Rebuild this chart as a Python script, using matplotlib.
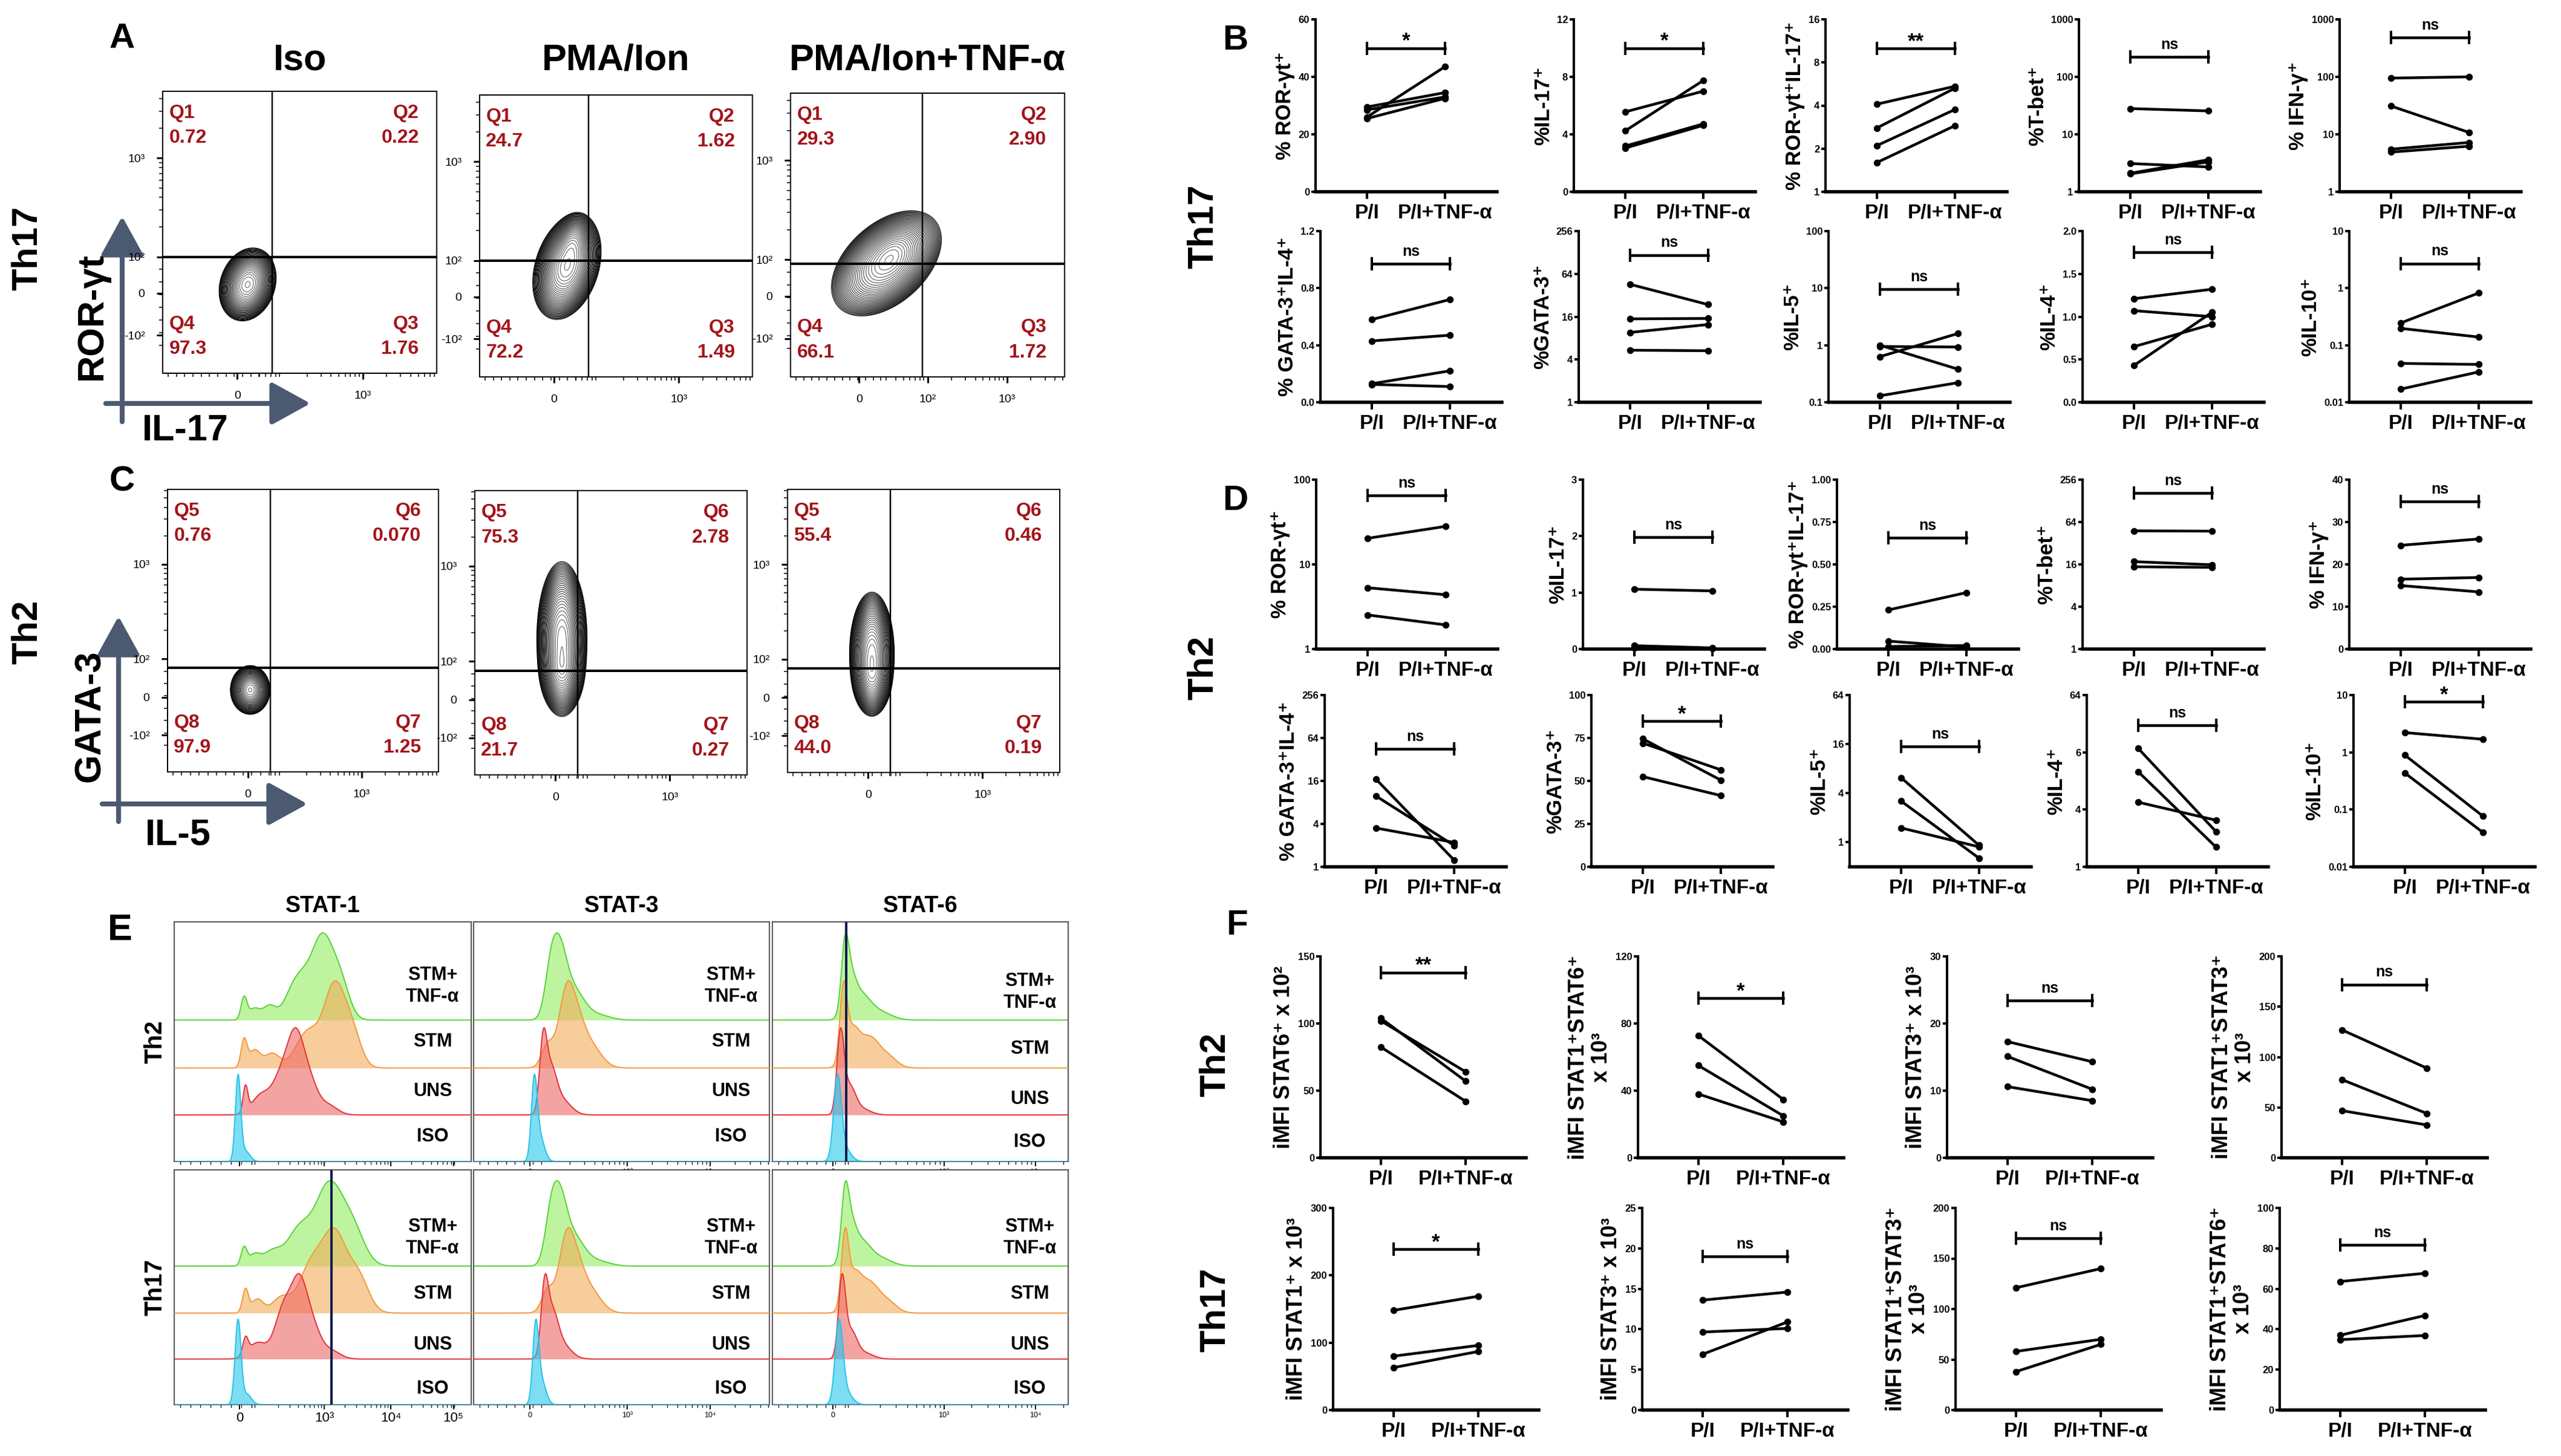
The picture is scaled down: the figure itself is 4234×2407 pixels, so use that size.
import numpy as np
import matplotlib
matplotlib.use("Agg")
import matplotlib.pyplot as plt

W, H = 4234, 2407
PX = 0.72  # points per pixel at dpi 100

# ---------------- data: panel A / C (flow quadrants) ----------------
a_titles = ["Iso", "PMA/Ion", "PMA/Ion+TNF-α"]
a_quads = ["Q1", "Q2", "Q3", "Q4"]
a_values = [["0.72", "0.22", "1.76", "97.3"],
            ["24.7", "1.62", "1.49", "72.2"],
            ["29.3", "2.90", "1.72", "66.1"]]
c_quads = ["Q5", "Q6", "Q7", "Q8"]
c_values = [["0.76", "0.070", "1.25", "97.9"],
            ["75.3", "2.78", "0.27", "21.7"],
            ["55.4", "0.46", "0.19", "44.0"]]
# population blobs: (cx, cy, sigma_major, sigma_minor, angle, weight) in box fractions
a_blobs = [[(0.31, 0.315, 0.040, 0.030, 70, 1.0)],
           [(0.32, 0.39, 0.058, 0.035, 72, 1.0), (0.34, 0.47, 0.035, 0.022, 75, 0.35)],
           [(0.35, 0.40, 0.072, 0.044, 40, 1.0), (0.37, 0.43, 0.045, 0.028, 45, 0.4)]]
c_blobs = [[(0.305, 0.29, 0.026, 0.022, 90, 1.0)],
           [(0.32, 0.48, 0.082, 0.028, 90, 1.0), (0.32, 0.37, 0.045, 0.025, 90, 0.6)],
           [(0.31, 0.42, 0.066, 0.025, 90, 1.0), (0.31, 0.34, 0.04, 0.022, 90, 0.5)]]
a_vline = [0.40, 0.399, 0.482]
a_hline = [0.413, 0.413, 0.399]
c_vline = [0.379, 0.377, 0.377]
c_hline = [0.368, 0.365, 0.367]
a_ytick_labels = ["10³", "10²", "0", "-10²"]
a_ytick_pos = [0.763, 0.413, 0.284, 0.135]
c_ytick_pos = [0.735, 0.40, 0.264, 0.13]
a_xtick_labels = [["0", "10³"], ["0", "10³"], ["0", "10²", "10³"]]
a_xtick_pos = [[0.272, 0.73], [0.272, 0.73], [0.25, 0.50, 0.79]]
c_xtick_labels = ["0", "10³"]
c_xtick_pos = [0.296, 0.716]

# ---------------- data: panel E (histograms) ----------------
e_titles = ["STAT-1", "STAT-3", "STAT-6"]
e_rows = ["Th2", "Th17"]
e_samples = ["STM+\nTNF-α", "STM", "UNS", "ISO"]
# components per curve (center, width, height); order green, orange, red, blue
e_th2 = [
    [[(0.235, 0.010, 0.28), (0.27, 0.02, 0.15), (0.32, 0.02, 0.17), (0.42, 0.04, 0.55), (0.50, 0.035, 1.0), (0.56, 0.03, 0.45)],
     [(0.235, 0.010, 0.33), (0.27, 0.02, 0.22), (0.33, 0.025, 0.18), (0.45, 0.04, 0.45), (0.54, 0.035, 1.0), (0.60, 0.03, 0.4)],
     [(0.24, 0.008, 0.42), (0.29, 0.03, 0.3), (0.37, 0.035, 0.75), (0.41, 0.025, 0.8), (0.45, 0.03, 0.6), (0.52, 0.03, 0.15)],
     [(0.215, 0.009, 1.0), (0.24, 0.015, 0.12)]],
    [[(0.26, 0.02, 0.6), (0.29, 0.025, 1.0), (0.34, 0.035, 0.45), (0.42, 0.04, 0.08)],
     [(0.25, 0.02, 0.35), (0.31, 0.025, 0.9), (0.345, 0.03, 0.7), (0.40, 0.035, 0.3)],
     [(0.235, 0.012, 0.9), (0.26, 0.02, 0.6), (0.30, 0.03, 0.2)],
     [(0.205, 0.010, 1.0), (0.225, 0.015, 0.3)]],
    [[(0.245, 0.012, 0.9), (0.26, 0.02, 0.7), (0.30, 0.03, 0.4), (0.36, 0.04, 0.15)],
     [(0.24, 0.012, 0.9), (0.27, 0.025, 0.5), (0.33, 0.03, 0.38), (0.39, 0.03, 0.15)],
     [(0.23, 0.012, 1.0), (0.26, 0.02, 0.35), (0.30, 0.03, 0.08)],
     [(0.22, 0.013, 1.0), (0.245, 0.02, 0.15)]]]
e_th17 = [
    [[(0.235, 0.010, 0.22), (0.27, 0.02, 0.14), (0.33, 0.03, 0.18), (0.42, 0.04, 0.45), (0.52, 0.045, 1.0), (0.60, 0.04, 0.45)],
     [(0.24, 0.010, 0.30), (0.28, 0.02, 0.18), (0.36, 0.03, 0.2), (0.46, 0.04, 0.6), (0.54, 0.04, 1.0), (0.62, 0.035, 0.45)],
     [(0.24, 0.009, 0.25), (0.28, 0.03, 0.25), (0.37, 0.03, 0.8), (0.42, 0.025, 0.9), (0.46, 0.03, 0.55), (0.53, 0.03, 0.12)],
     [(0.215, 0.010, 1.0), (0.245, 0.015, 0.12)]],
    [[(0.26, 0.02, 0.6), (0.29, 0.025, 1.0), (0.34, 0.035, 0.45), (0.42, 0.04, 0.08)],
     [(0.25, 0.02, 0.35), (0.31, 0.025, 0.9), (0.345, 0.03, 0.7), (0.40, 0.035, 0.3)],
     [(0.24, 0.012, 0.9), (0.265, 0.02, 0.6), (0.30, 0.03, 0.2)],
     [(0.21, 0.010, 1.0), (0.23, 0.015, 0.3)]],
    [[(0.245, 0.012, 0.9), (0.26, 0.02, 0.7), (0.30, 0.03, 0.4), (0.36, 0.04, 0.15)],
     [(0.245, 0.012, 0.9), (0.275, 0.025, 0.5), (0.33, 0.03, 0.38), (0.39, 0.03, 0.15)],
     [(0.235, 0.012, 1.0), (0.265, 0.02, 0.35), (0.31, 0.03, 0.08)],
     [(0.225, 0.013, 1.0), (0.25, 0.02, 0.15)]]]
e_baselines = [2.95, 1.95, 0.97, 0.0]
e_label_y = [[[3.66, 2.5, 1.46, 0.52], [3.66, 2.5, 1.46, 0.52], [3.54, 2.35, 1.3, 0.41]],
             [[3.56, 2.36, 1.28, 0.33], [3.56, 2.36, 1.28, 0.33], [3.56, 2.36, 1.28, 0.33]]]
e_vline = [[None, None, 0.249], [0.53, None, None]]
e_tick_labels = [["0", "10³", "10⁴", "10⁵"], ["0", "10³", "10⁴"], ["0", "10³", "10⁴"]]
e_tick_pos = [[0.22, 0.506, 0.73, 0.94], [0.19, 0.52, 0.80], [0.205, 0.58, 0.89]]

# ---------------- data: panels B / D (paired %) ----------------
xcats = ["P/I", "P/I+TNF-α"]
b_ylabels = ["% ROR-γt⁺", "%IL-17⁺", "% ROR-γt⁺IL-17⁺", "%T-bet⁺", "% IFN-γ⁺",
             "% GATA-3⁺IL-4⁺", "%GATA-3⁺", "%IL-5⁺", "%IL-4⁺", "%IL-10⁺"]
b_pi = [[29.5, 28.5, 26.0, 25.5], [5.56, 4.24, 3.18, 3.04], [4.09, 2.79, 2.10, 1.60],
        [28, 3.1, 2.1, 2.05], [95, 31, 5.5, 4.9],
        [0.58, 0.43, 0.13, 0.125], [45.6, 14.9, 9.6, 5.4], [1.0, 0.95, 0.63, 0.13],
        [1.21, 1.07, 0.65, 0.43], [0.245, 0.197, 0.048, 0.017]]
b_tnf = [[34.5, 33.0, 43.5, 32.5], [7.0, 7.74, 4.72, 4.62], [5.45, 5.28, 3.75, 2.89],
         [25.5, 2.7, 3.6, 3.3], [100, 10.8, 7.2, 6.2],
         [0.72, 0.47, 0.22, 0.11], [23.7, 15.1, 12.4, 5.3], [0.38, 0.93, 1.6, 0.22],
         [1.32, 1.0, 0.91, 1.05], [0.82, 0.139, 0.046, 0.034]]
b_sig = ["*", "*", "**", "ns", "ns", "ns", "ns", "ns", "ns", "ns"]
b_sig_y = [50, 10.0, 10.0, 220, 480, 0.97, 118, 9.5, 1.75, 2.7]
b_scale = ["lin", "lin", "log2", "log10", "log10", "lin", "log2", "log10", "lin", "log10"]
b_ylim = [(0, 60), (0, 12), (1, 16), (1, 1000), (1, 1000),
          (0, 1.2), (1, 256), (0.1, 100), (0, 2.0), (0.01, 10)]
b_ticks = [[0, 20, 40, 60], [0, 4, 8, 12], [1, 2, 4, 8, 16], [1, 10, 100, 1000], [1, 10, 100, 1000],
           [0, 0.4, 0.8, 1.2], [1, 4, 16, 64, 256], [0.1, 1, 10, 100], [0, 0.5, 1.0, 1.5, 2.0],
           [0.01, 0.1, 1, 10]]
b_ticklabels = [["0", "20", "40", "60"], ["0", "4", "8", "12"], ["1", "2", "4", "8", "16"],
                ["1", "10", "100", "1000"], ["1", "10", "100", "1000"],
                ["0.0", "0.4", "0.8", "1.2"], ["1", "4", "16", "64", "256"], ["0.1", "1", "10", "100"],
                ["0.0", "0.5", "1.0", "1.5", "2.0"], ["0.01", "0.1", "1", "10"]]

d_ylabels = b_ylabels
d_pi = [[20.3, 5.3, 2.53], [1.06, 0.06, 0.02], [0.231, 0.047, 0.015], [48, 17.5, 14.8], [24.5, 16.5, 15.0],
        [16.9, 9.8, 3.5], [74.5, 72, 52.5], [6.2, 3.2, 1.5], [17.6, 10.0, 4.78], [2.21, 0.89, 0.434]]
d_tnf = [[28.1, 4.38, 1.93], [1.03, 0.02, 0.01], [0.333, 0.012, 0.021], [47.5, 15.8, 14.5], [26, 16.9, 13.5],
         [1.25, 2.0, 2.2], [50.5, 56.5, 41.5], [0.92, 0.64, 0.88], [2.34, 1.61, 3.09], [1.69, 0.077, 0.040]]
d_sig = ["ns", "ns", "ns", "ns", "ns", "ns", "*", "ns", "ns", "*"]
d_sig_y = [65, 1.98, 0.656, 164, 34.8, 44.6, 84.8, 15, 30.8, 7.6]
d_scale = ["log10", "lin", "lin", "log2", "lin", "log2", "lin", "log2", "log2", "log10"]
d_ylim = [(1, 100), (0, 3), (0, 1.0), (1, 256), (0, 40),
          (1, 256), (0, 100), (0.5, 64), (1, 64), (0.01, 10)]
d_ticks = [[1, 10, 100], [0, 1, 2, 3], [0, 0.25, 0.5, 0.75, 1.0], [1, 4, 16, 64, 256], [0, 10, 20, 30, 40],
           [1, 4, 16, 64, 256], [0, 25, 50, 75, 100], [1, 4, 16, 64], [1, 4, 16, 64], [0.01, 0.1, 1, 10]]
d_ticklabels = [["1", "10", "100"], ["0", "1", "2", "3"], ["0.00", "0.25", "0.50", "0.75", "1.00"],
                ["1", "4", "16", "64", "256"], ["0", "10", "20", "30", "40"],
                ["1", "4", "16", "64", "256"], ["0", "25", "50", "75", "100"], ["1", "4", "16", "64"],
                ["1", "4", "6", "64"], ["0.01", "0.1", "1", "10"]]

# ---------------- data: panel F (iMFI) ----------------
f_ylabels = ["iMFI STAT6⁺ x 10²", "iMFI STAT1⁺STAT6⁺\nx 10³", "iMFI STAT3⁺ x 10³", "iMFI STAT1⁺STAT3⁺\nx 10³",
             "iMFI STAT1⁺ x 10³", "iMFI STAT3⁺ x 10³", "iMFI STAT1⁺STAT3⁺\nx 10³", "iMFI STAT1⁺STAT6⁺\nx 10³"]
f_pi = [[104, 102, 82.5], [72.8, 55, 38], [17.3, 15.1, 10.6], [127, 77.6, 46.8],
        [148, 80, 63], [13.6, 9.65, 6.9], [121, 58, 38], [63.6, 37, 34.8]]
f_tnf = [[57, 64, 42], [34.7, 25, 21.4], [14.3, 10.2, 8.5], [89, 44, 32.6],
         [169, 96, 87], [14.6, 10.1, 10.9], [140, 70, 65], [67.7, 46.8, 36.9]]
f_sig = ["**", "*", "ns", "ns", "*", "ns", "ns", "ns"]
f_sig_y = [138, 95, 23.4, 172, 239, 19, 170, 81.6]
f_ylim = [(0, 150), (0, 120), (0, 30), (0, 200), (0, 300), (0, 25), (0, 200), (0, 100)]
f_ticks = [[0, 50, 100, 150], [0, 40, 80, 120], [0, 10, 20, 30], [0, 50, 100, 150, 200],
           [0, 100, 200, 300], [0, 5, 10, 15, 20, 25], [0, 50, 100, 150, 200], [0, 20, 40, 60, 80, 100]]

# ---------------- layout (pixel boxes in the 4234 x 2407 canvas) ----------------
a_boxes = [(269, 151, 722, 617), (793, 157, 1244, 623), (1307, 154, 1760, 623)]
c_boxes = [(277, 809, 725, 1276), (785, 811, 1235, 1281), (1302, 809, 1752, 1277)]
e_cols = [(288, 779), (783, 1272), (1277, 1766)]
e_rowbox = [(1524, 1920), (1934, 2322)]
b_rows = [(32, 317, [2175, 2602, 3018, 3437, 3868]), (382, 665, [2183, 2610, 3023, 3443, 3884])]
d_rows = [(793, 1073, [2176, 2617, 3037, 3443, 3884]), (1149, 1433, [2190, 2631, 3058, 3450, 3891])]
f_rows = [(1581, 1914, [2183, 2708, 3219, 3772]), (1997, 2331, [2204, 2715, 3233, 3769])]
BD_W, F_W = 300, 340

plt.rcParams['font.family'] = ['Liberation Sans', 'DejaVu Sans']
plt.rcParams['axes.linewidth'] = 2 * PX

fig = plt.figure(figsize=(W / 100, H / 100), dpi=100)


def rect(x0, y0, x1, y1):
    return [x0 / W, 1 - y1 / H, (x1 - x0) / W, (y1 - y0) / H]


over = fig.add_axes([0, 0, 1, 1], zorder=-5)
over.set_xlim(0, W)
over.set_ylim(H, 0)
over.axis('off')


def label(x, y, s, size, rot=0, **kw):
    over.text(x, y, s, fontsize=size, rotation=rot, ha='center', va='center',
              fontweight='bold', **kw)


def decade_minor(p0, d, lo, hi):
    out = []
    for i in range(-3, 4):
        for k in range(2, 10):
            p = p0 + (i + np.log10(k)) * d
            if lo < p < hi:
                out.append(p)
    return out


def density(blobs, gx, gy):
    z = np.zeros_like(gx)
    for cx, cy, sa, sb, ang, w in blobs:
        t = np.deg2rad(ang)
        dx, dy = gx - cx, gy - cy
        u = dx * np.cos(t) + dy * np.sin(t)
        v = -dx * np.sin(t) + dy * np.cos(t)
        z += w * np.exp(-0.5 * ((u / sa) ** 2 + (v / sb) ** 2))
    return z


QRED = '#a3141a'


def flow_panel(box, blobs, vline, hline, quads, values, ypos, xpos, xlabels):
    ax = fig.add_axes(rect(*box))
    g = np.linspace(0, 1, 500)
    gx, gy = np.meshgrid(g, g)
    z = density(blobs, gx, gy)
    lev = z.max() * np.geomspace(0.004, 0.96, 30)
    shades = [str(v) for v in np.linspace(0.0, 0.45, len(lev))]
    ax.contour(gx, gy, z, levels=lev, colors=shades, linewidths=1.2 * PX)
    ax.axvline(vline, color='black', lw=2.5 * PX)
    ax.axhline(hline, color='black', lw=4 * PX)
    ax.set_xlim(0, 1)
    ax.set_ylim(0, 1)
    tl, tr, br, bl = values
    kw = dict(color=QRED, fontsize=23, fontweight='bold', transform=ax.transAxes, va='center')
    ax.text(0.023, 0.923, quads[0], ha='left', **kw)
    ax.text(0.023, 0.835, tl, ha='left', **kw)
    ax.text(0.935, 0.923, quads[1], ha='right', **kw)
    ax.text(0.935, 0.835, tr, ha='right', **kw)
    ax.text(0.935, 0.174, quads[2], ha='right', **kw)
    ax.text(0.935, 0.086, br, ha='right', **kw)
    ax.text(0.023, 0.174, quads[3], ha='left', **kw)
    ax.text(0.023, 0.086, bl, ha='left', **kw)
    ax.set_yticks(ypos)
    ax.set_yticklabels(a_ytick_labels)
    d = ypos[0] - ypos[1]
    ymin = decade_minor(ypos[1], d, ypos[1], 1.0) + list(np.linspace(ypos[3] - 0.08, ypos[1], 9)[1:-1])
    ax.set_yticks(ymin, minor=True)
    ax.set_xticks(xpos)
    ax.set_xticklabels(xlabels)
    xmin = decade_minor(xpos[-1], 0.29, xpos[0] + 0.08, 1.0) + list(np.linspace(0.02, xpos[0] + 0.08, 12))
    ax.set_xticks(xmin, minor=True)
    ax.tick_params(which='major', length=10 * PX, width=3 * PX, labelsize=14, pad=14)
    ax.tick_params(which='minor', length=6 * PX, width=1.5 * PX)
    for s in ax.spines.values():
        s.set_linewidth(2 * PX)


# ---- panel A ----
label(202, 64, "A", 42)
for i in range(3):
    x0, y0, x1, y1 = a_boxes[i]
    label((x0 + x1) / 2, 100, a_titles[i], 44)
    flow_panel(a_boxes[i], a_blobs[i], a_vline[i], a_hline[i], a_quads, a_values[i],
               a_ytick_pos, a_xtick_pos[i], a_xtick_labels[i])
label(46, 410, "Th17", 43, rot=90)
AX = '#4b5a70'
arrow = dict(arrowstyle='-|>,head_length=1.0,head_width=0.55', lw=8 * PX, color=AX, mutation_scale=40)
over.annotate('', xy=(202, 355), xytext=(202, 700), arrowprops=arrow)
over.annotate('', xy=(516, 667), xytext=(172, 667), arrowprops=arrow)
label(152, 523, "ROR-γt", 44, rot=90)
label(306, 712, "IL-17", 44)

# ---- panel C ----
label(202, 796, "C", 42)
for i in range(3):
    flow_panel(c_boxes[i], c_blobs[i], c_vline[i], c_hline[i], c_quads, c_values[i],
               c_ytick_pos, c_xtick_pos, c_xtick_labels)
label(46, 1045, "Th2", 43, rot=90)
over.annotate('', xy=(196, 1016), xytext=(196, 1361), arrowprops=arrow)
over.annotate('', xy=(511, 1329), xytext=(166, 1329), arrowprops=arrow)
label(150, 1184, "GATA-3", 44, rot=90)
label(294, 1381, "IL-5", 44)

# ---- panel E ----
FILL = [(0.58, 0.93, 0.38), (0.95, 0.68, 0.35), (0.93, 0.40, 0.40), (0.15, 0.78, 0.92)]
EDGE = ['#58d23a', '#f09a3e', '#e3343a', '#27c3e8']
PEAK = 1.82
label(198, 1539, "E", 44)
for j in range(3):
    label((e_cols[j][0] + e_cols[j][1]) / 2, 1498, e_titles[j], 27)
for r in range(2):
    yb = e_rowbox[r]
    label(256, (yb[0] + yb[1]) / 2, e_rows[r], 29, rot=90)
    data = e_th2 if r == 0 else e_th17
    for j in range(3):
        ax = fig.add_axes(rect(e_cols[j][0], yb[0], e_cols[j][1], yb[1]))
        xs = np.linspace(0, 1, 800)
        for k in range(4):
            y = np.zeros_like(xs)
            for c, w, h in data[j][k]:
                y += h * np.exp(-0.5 * ((xs - c) / w) ** 2)
            y = y / y.max() * PEAK
            b = e_baselines[k]
            ax.fill_between(xs, b, b + y, color=FILL[k], alpha=0.6, lw=0, zorder=2 + k)
            ax.plot(xs, b + y, color=EDGE[k], lw=2 * PX, zorder=2 + k)
        for k in range(4):
            ax.text(0.87, e_label_y[r][j][k], e_samples[k], ha='center', va='center',
                    fontsize=22, fontweight='bold', linespacing=1.25, zorder=10)
        if e_vline[r][j] is not None:
            ax.axvline(e_vline[r][j], color='#0c1d50', lw=4 * PX, zorder=11)
        ax.set_xlim(0, 1)
        ax.set_ylim(0, 5)
        ax.set_yticks([])
        ax.set_xticks(e_tick_pos[j])
        dec = e_tick_pos[j][2] - e_tick_pos[j][1]
        ax.set_xticks(decade_minor(e_tick_pos[j][1], dec, e_tick_pos[j][0] + 0.04, 1.0)
                      + list(np.linspace(0.02, e_tick_pos[j][0] + 0.04, 8)), minor=True)
        if r == 0 and j == 0:
            ax.set_xticklabels([])
        else:
            ax.set_xticklabels(e_tick_labels[j])
        size = 16 if j == 0 else 9
        ax.tick_params(which='major', length=8 * PX, width=2 * PX, labelsize=size, pad=3)
        ax.tick_params(which='minor', length=5 * PX, width=1.2 * PX)
        for s in ax.spines.values():
            s.set_linewidth(1.6 * PX)
            s.set_color('#333333')


# ---- paired panels ----
def pair_panel(r_, ylab, pi, tnf, sig, sig_y, scale, ylim, ticks, tlabels, xlim, ysize):
    ax = fig.add_axes(r_)
    if scale == 'log10':
        ax.set_yscale('log')
    elif scale == 'log2':
        ax.set_yscale('log', base=2)
    for a, b in zip(pi, tnf):
        ax.plot([0, 1], [a, b], color='black', lw=4.5 * PX, marker='o', ms=10 * PX,
                clip_on=False, solid_capstyle='round', zorder=3)
    ax.plot([0, 1], [sig_y, sig_y], color='black', lw=4.5 * PX, marker='|', ms=23 * PX,
            mew=4 * PX, clip_on=False)
    if sig == 'ns':
        ax.annotate(sig, (0.5, sig_y), xytext=(0, 6), textcoords='offset points',
                    ha='center', va='bottom', fontsize=18, fontweight='bold')
    else:
        ax.annotate(sig, (0.5, sig_y), xytext=(0, -4), textcoords='offset points',
                    ha='center', va='bottom', fontsize=25, fontweight='bold')
    ax.set_xlim(*xlim)
    ax.set_ylim(*ylim)
    ax.set_yticks(ticks)
    ax.set_yticklabels(tlabels, fontweight='bold')
    ax.minorticks_off()
    ax.set_xticks([0, 1])
    ax.set_xticklabels(xcats, fontweight='bold')
    for s in ['top', 'right']:
        ax.spines[s].set_visible(False)
    ax.spines['left'].set_linewidth(4 * PX)
    ax.spines['bottom'].set_linewidth(5.5 * PX)
    ax.tick_params(axis='x', length=12 * PX, width=4 * PX, labelsize=24, pad=6)
    ax.tick_params(axis='y', length=7 * PX, width=4 * PX, labelsize=12, pad=2)
    ax.set_ylabel(ylab, fontsize=ysize, fontweight='bold', labelpad=4, linespacing=1.1)
    ax.patch.set_alpha(0)
    return ax


BD_XLIM = (-0.66, 1.67)
F_XLIM = (-0.71, 1.71)

label(2042, 67, "B", 42)
label(1990, 374, "Th17", 43, rot=90)
for row in range(2):
    top, bot, lefts = b_rows[row]
    for c in range(5):
        i = row * 5 + c
        pair_panel(rect(lefts[c], top, lefts[c] + BD_W, bot), b_ylabels[i], b_pi[i], b_tnf[i],
                   b_sig[i], b_sig_y[i], b_scale[i], b_ylim[i], b_ticks[i], b_ticklabels[i], BD_XLIM, 25)

label(2042, 828, "D", 42)
label(1990, 1104, "Th2", 43, rot=90)
for row in range(2):
    top, bot, lefts = d_rows[row]
    for c in range(5):
        i = row * 5 + c
        pair_panel(rect(lefts[c], top, lefts[c] + BD_W, bot), d_ylabels[i], d_pi[i], d_tnf[i],
                   d_sig[i], d_sig_y[i], d_scale[i], d_ylim[i], d_ticks[i], d_ticklabels[i], BD_XLIM, 25)

label(2045, 1530, "F", 42)
label(2010, 1760, "Th2", 43, rot=90)
label(2010, 2165, "Th17", 43, rot=90)
for row in range(2):
    top, bot, lefts = f_rows[row]
    for c in range(4):
        i = row * 4 + c
        pair_panel(rect(lefts[c], top, lefts[c] + F_W, bot), f_ylabels[i], f_pi[i], f_tnf[i],
                   f_sig[i], f_sig_y[i], 'lin', f_ylim[i], f_ticks[i],
                   [str(t) for t in f_ticks[i]], F_XLIM, 26)

fig.savefig("out.png", dpi=100, facecolor='white')
